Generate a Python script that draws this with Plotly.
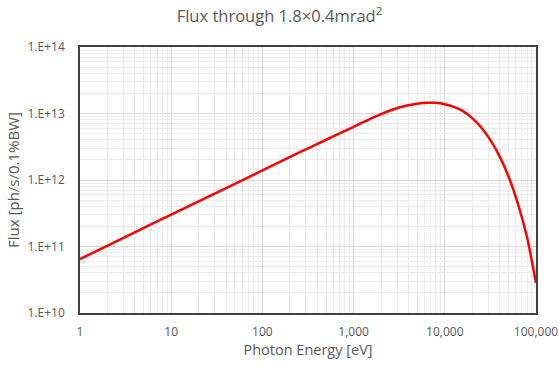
import plotly.graph_objects as go

energy_ev = [1, 3.16, 10, 31.6, 100, 251, 501, 794, 1000, 1259, 1585, 1995, 2512, 3162,
             3981, 5012, 6310, 7943, 10000, 12589, 15849, 19953, 25119, 31623,
             39811, 50119, 63096, 79433, 100000]
flux = [6.46e10, 1.40e11, 3.02e11, 6.46e11, 1.39e12, 2.57e12, 4.03e12, 5.43e12,
        6.31e12, 7.35e12, 8.51e12, 9.77e12, 1.109e13, 1.23e13, 1.334e13, 1.406e13,
        1.445e13, 1.445e13, 1.38e13, 1.259e13, 1.084e13, 8.51e12, 6.17e12, 3.98e12,
        2.29e12, 1.12e12, 4.47e11, 1.41e11, 2.82e10]

x_tickvals = [1, 10, 100, 1000, 10000, 100000]
x_ticktext = ["1", "10", "100", "1,000", "10,000", "100,000"]
y_tickvals = [1e10, 1e11, 1e12, 1e13, 1e14]
y_ticktext = ["1.E+10", "1.E+11", "1.E+12", "1.E+13", "1.E+14"]

font_family = "Open Sans, Liberation Sans, sans-serif"
gray = "#595959"

fig = go.Figure()
fig.add_trace(go.Scatter(
    x=energy_ev, y=flux, mode="lines",
    line=dict(color="#ff0000", width=2.5, shape="spline", smoothing=0.8),
    showlegend=False, hoverinfo="skip"))

fig.update_layout(
    width=559, height=367,
    margin=dict(l=80, r=23, t=47, b=54),
    paper_bgcolor="white", plot_bgcolor="white",
    font=dict(family=font_family, color=gray, size=12),
    title=dict(text="Flux through 1.8×0.4mrad<sup>2</sup>",
               x=0.5, xanchor="center", y=0.955, yanchor="middle",
               font=dict(size=16.5, color=gray, family=font_family)),
)

fig.update_xaxes(
    type="log", range=[0, 5], automargin=False,
    tickvals=x_tickvals, ticktext=x_ticktext,
    showgrid=True, gridcolor="#d9d9d9", gridwidth=1,
    minor=dict(showgrid=True, gridcolor="#ececec", gridwidth=1, dtick="D1"),
    showline=True, linecolor="#404040", linewidth=1.5, mirror=True,
    ticks="", ticklabelstandoff=7,
    tickfont=dict(size=12, color=gray),
    title=dict(text="Photon Energy [eV]", font=dict(size=14.5, color=gray), standoff=5),
    zeroline=False,
)
fig.update_yaxes(
    type="log", range=[10, 14], automargin=False,
    tickvals=y_tickvals, ticktext=y_ticktext,
    showgrid=True, gridcolor="#d9d9d9", gridwidth=1,
    minor=dict(showgrid=True, gridcolor="#ececec", gridwidth=1, dtick="D1"),
    showline=True, linecolor="#404040", linewidth=1.5, mirror=True,
    ticks="", ticklabelstandoff=11,
    tickfont=dict(size=12, color=gray),
    title=dict(text="Flux [ph/s/0.1%BW]", font=dict(size=15, color=gray), standoff=4),
    zeroline=False,
)

fig.write_html("out.html")
